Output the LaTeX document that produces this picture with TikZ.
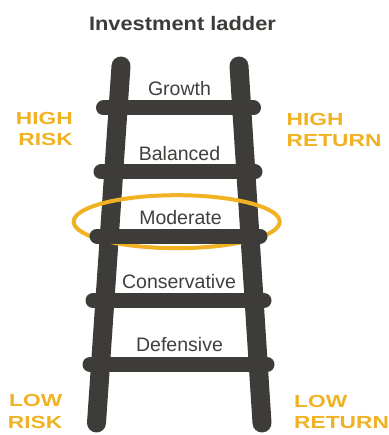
\documentclass[tikz,border=0pt]{standalone}
\usepackage{fontspec}
\setmainfont{Liberation Sans}
\newfontfamily\titlefont[FakeStretch=1.12]{Liberation Sans}
\newfontfamily\sidefont[FakeStretch=1.3]{Liberation Sans}
\usetikzlibrary{positioning}
\definecolor{ladderdark}{RGB}{62,60,56}
\definecolor{riskorange}{RGB}{240,178,35}
\definecolor{labelgray}{RGB}{64,63,60}

\begin{document}
\begin{tikzpicture}[x=1pt,y=-1pt]
		\tikzset{
			rail/.style = {draw=ladderdark, line width=19pt, line cap=round},
			rung/.style = {draw=ladderdark, line width=15pt, line cap=round},
			ring/.style = {draw=riskorange, line width=4pt},
			rungtext/.style = {anchor=base, inner sep=0pt, text=labelgray,
				font=\fontsize{19.5}{22}\selectfont},
			riskside/.style = {align=right, anchor=base east, inner sep=0pt, text=riskorange,
				font=\sidefont\bfseries\fontsize{17.5}{21.5}\selectfont},
			returnside/.style = {align=left, anchor=base west, inner sep=0pt, text=riskorange,
				font=\sidefont\bfseries\fontsize{17.5}{21.5}\selectfont},
		}
		\useasboundingbox (0,0) rectangle (388,435);

		%rails
		\draw [rail] (121,66) -- (96.5,423);
		\draw [rail] (239,66) -- (262,423);

		%ring round the moderate step
		\draw [ring] (176.7,221.7) ellipse [x radius=103, y radius=26.5];

		%rungs
		\draw [rung] (103.5,108) -- (253.5,108);
		\draw [rung] (101,172) -- (255,172);
		\draw [rung] (97,236) -- (260,236);
		\draw [rung] (93,300.5) -- (264,300.5);
		\draw [rung] (90,364.5) -- (267,364.5);

		%nodes
		\node (title) [anchor=base, inner sep=0pt, text=ladderdark,
			font=\titlefont\bfseries\fontsize{19.5}{22}\selectfont] at (182.5,30.7) {Investment ladder};
		\node (growth) [rungtext] at (179.5,96) {Growth};
		\node (balanced) [rungtext] at (179.5,160.5) {Balanced};
		\node (moderate) [rungtext] at (180.5,224.5) {Moderate};
		\node (conservative) [rungtext] at (179,288) {Conservative};
		\node (defensive) [rungtext] at (179.5,351.5) {Defensive};

		%side labels (base is the last line)
		\node (highrisk) [riskside] at (73,146) {HIGH\\RISK};
		\node (highreturn) [returnside] at (286.5,147) {HIGH\\RETURN};
		\node (lowrisk) [riskside] at (62.5,428) {LOW\\RISK};
		\node (lowreturn) [returnside] at (294,428.5) {LOW\\RETURN};

	\end{tikzpicture}
\end{document}
